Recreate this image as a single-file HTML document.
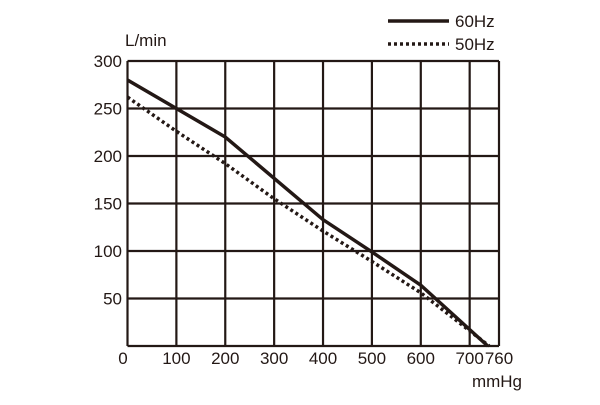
<!DOCTYPE html>
<html><head><meta charset="utf-8"><style>
body{margin:0;background:#fff}
svg text{font-family:"Liberation Sans",sans-serif;font-size:17px;fill:#231815}
</style></head><body>
<svg width="600" height="400" viewBox="0 0 600 400">
<g id="grid"></g>
<g id="series"></g>
<g id="labels"></g>
<text x="125" y="46">L/min</text>
<text x="522" y="387" text-anchor="end">mmHg</text>
<line x1="388" y1="21" x2="449" y2="21" stroke="#231815" stroke-width="3.5"/>
<text x="455" y="27">60Hz</text>
<line x1="388" y1="44" x2="449" y2="44" stroke="#231815" stroke-width="3.5" stroke-dasharray="3,3"/>
<text x="455" y="50">50Hz</text>
</svg>
<script>
const xTicks=[0,100,200,300,400,500,600,700,760];
const yTicks=[0,50,100,150,200,250,300];
const x60=[0,100,200,400,500,600,737];
const y60=[280,250,220,133,99,64,0];
const x50=[0,100,200,300,400,500,600,740];
const y50=[262,226,192,155,121,89,56,0];
const X=v=>127.5+v*(499-127.5)/760;
const Y=v=>346-v*(346-61)/300;
const NS="http://www.w3.org/2000/svg";
const grid=document.getElementById('grid'),ser=document.getElementById('series'),lab=document.getElementById('labels');
function mk(t,a,p){const e=document.createElementNS(NS,t);for(const k in a)e.setAttribute(k,a[k]);p.appendChild(e);return e;}
xTicks.forEach(v=>{
 const l=mk('line',{x1:X(v),x2:X(v),y1:61,y2:346,stroke:'#231815','stroke-width':2.2},grid);
 
 
 const t=mk('text',{x:v==0?123:X(v),y:364,'text-anchor':'middle'},lab);
 t.textContent=v;
 
 
});
yTicks.forEach(v=>{
 const l=mk('line',{x1:127.5,x2:499,y1:Y(v),y2:Y(v),stroke:'#231815','stroke-width':2.2},grid);
 
 
 if(v>0){const t=mk('text',{x:122,y:Y(v)+6,'text-anchor':'end'},lab);
 t.textContent=v;
 
 }
});
const p1=mk('polyline',{points:x60.map((v,i)=>X(v)+','+Y(y60[i])).join(' '),fill:'none',stroke:'#231815','stroke-width':3.5},ser);


const p2=mk('polyline',{points:x50.map((v,i)=>X(v)+','+Y(y50[i])).join(' '),fill:'none',stroke:'#231815','stroke-width':3.5,'stroke-dasharray':'3,3'},ser);


</script>
</body></html>
